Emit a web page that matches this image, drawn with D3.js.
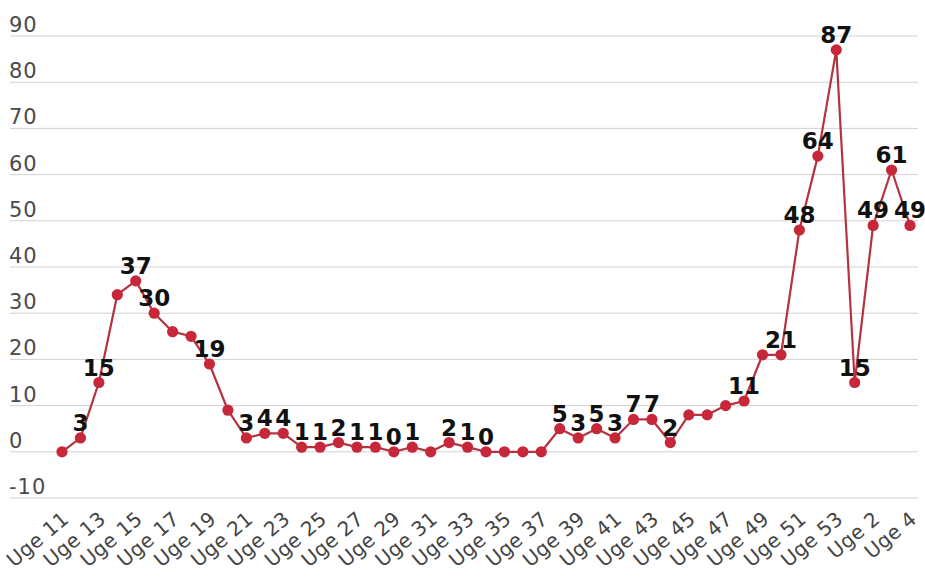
<!DOCTYPE html>
<html>
<head>
<meta charset="utf-8">
<script src="https://cdn.jsdelivr.net/npm/d3@7"></script>
<style>
  html, body { margin: 0; padding: 0; background: #fff; }
  svg { display: block; }
</style>
</head>
<body>
<svg id="chart" width="925" height="579"></svg>
<script>
// ---- data ----
const weeks = [
  "Uge 11","Uge 12","Uge 13","Uge 14","Uge 15","Uge 16","Uge 17","Uge 18","Uge 19","Uge 20",
  "Uge 21","Uge 22","Uge 23","Uge 24","Uge 25","Uge 26","Uge 27","Uge 28","Uge 29","Uge 30",
  "Uge 31","Uge 32","Uge 33","Uge 34","Uge 35","Uge 36","Uge 37","Uge 38","Uge 39","Uge 40",
  "Uge 41","Uge 42","Uge 43","Uge 44","Uge 45","Uge 46","Uge 47","Uge 48","Uge 49","Uge 50",
  "Uge 51","Uge 52","Uge 53","Uge 1","Uge 2","Uge 3","Uge 4"
];
const values = [
  0, 3, 15, 34, 37, 30, 26, 25, 19, 9,
  3, 4, 4, 1, 1, 2, 1, 1, 0, 1,
  0, 2, 1, 0, 0, 0, 0, 5, 3, 5,
  3, 7, 7, 2, 8, 8, 10, 11, 21, 21,
  48, 64, 87, 15, 49, 61, 49
];
// weeks whose value label is printed in the reference
const labelledWeeks = [
  "Uge 12","Uge 13","Uge 15","Uge 16","Uge 19","Uge 21","Uge 22","Uge 23","Uge 24","Uge 25",
  "Uge 26","Uge 27","Uge 28","Uge 29","Uge 30","Uge 32","Uge 33","Uge 34","Uge 38","Uge 39",
  "Uge 40","Uge 41","Uge 42","Uge 43","Uge 44","Uge 48","Uge 50","Uge 51","Uge 52","Uge 53",
  "Uge 1","Uge 2","Uge 3","Uge 4"
];
const xTickLabels = [
  "Uge 11","Uge 13","Uge 15","Uge 17","Uge 19","Uge 21","Uge 23","Uge 25","Uge 27","Uge 29",
  "Uge 31","Uge 33","Uge 35","Uge 37","Uge 39","Uge 41","Uge 43","Uge 45","Uge 47","Uge 49",
  "Uge 51","Uge 53","Uge 2","Uge 4"
];
const yTicks = [-10, 0, 10, 20, 30, 40, 50, 60, 70, 80, 90];

// ---- drawing ----
const svg = d3.select("#chart");
const data = weeks.map((w, i) => ({ week: w, value: values[i] }));

const x = d3.scalePoint().domain(weeks).range([62, 910]);
const y = d3.scaleLinear().domain([-10, 90]).range([498, 36]);

// gridlines
svg.append("g").selectAll("line").data(yTicks).join("line")
  .attr("x1", 10).attr("x2", 918)
  .attr("y1", d => y(d)).attr("y2", d => y(d))
  .attr("stroke", "#d2d0d6").attr("stroke-width", 1);

// y tick labels
svg.append("g").selectAll("text").data(yTicks).join("text")
  .attr("x", 9).attr("y", d => y(d) - 4)
  .attr("font-family", "DejaVu Sans, sans-serif")
  .attr("font-size", 21)
  .attr("letter-spacing", 1)
  .attr("fill", "#4a4a4a")
  .text(d => d);

// x tick labels (rotated)
svg.append("g").selectAll("text").data(xTickLabels).join("text")
  .attr("transform", d => `translate(${x(d) + 8},521) rotate(-40)`)
  .attr("text-anchor", "end")
  .attr("font-family", "DejaVu Sans, sans-serif")
  .attr("font-size", 20)
  .attr("letter-spacing", 0.3)
  .attr("fill", "#444")
  .text(d => d);

// line
const line = d3.line().x(d => x(d.week)).y(d => y(d.value));
svg.append("path").datum(data)
  .attr("d", line)
  .attr("fill", "none")
  .attr("stroke", "#b3343f")
  .attr("stroke-width", 2.2)
  .attr("stroke-linejoin", "round");

// points
svg.append("g").selectAll("circle").data(data).join("circle")
  .attr("cx", d => x(d.week)).attr("cy", d => y(d.value))
  .attr("r", 5.6)
  .attr("fill", "#c6283a");

// value labels
svg.append("g").selectAll("text")
  .data(data.filter(d => labelledWeeks.includes(d.week)))
  .join("text")
  .attr("x", d => x(d.week)).attr("y", d => y(d.value) - 7)
  .attr("text-anchor", "middle")
  .attr("font-family", "DejaVu Sans, sans-serif")
  .attr("font-weight", "bold")
  .attr("font-size", 23)
  .attr("fill", "#111")
  .text(d => d.value);
</script>
</body>
</html>
